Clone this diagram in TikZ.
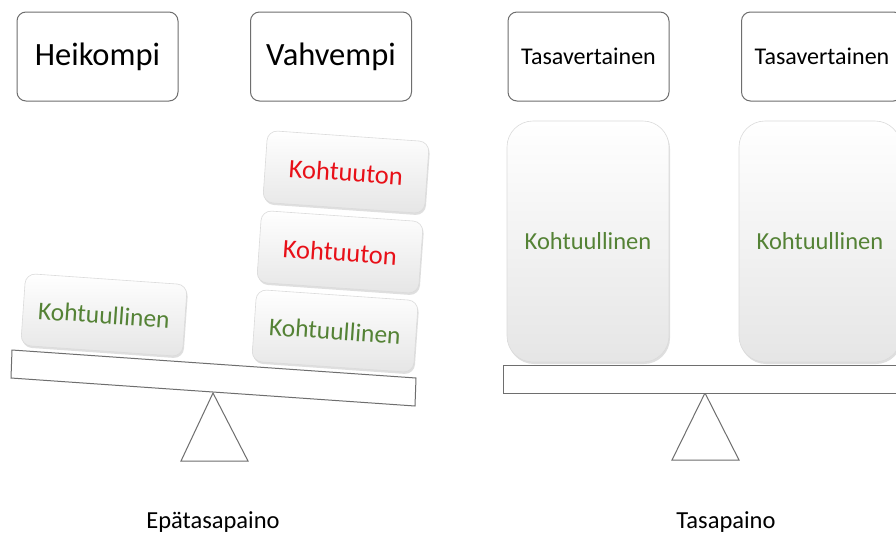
\documentclass[tikz,border=0pt]{standalone}
\usepackage{fontspec}
\setmainfont{Carlito}
\usetikzlibrary{shadows}
\definecolor{okgreen}{RGB}{84,130,53}
\definecolor{badred}{RGB}{232,16,24}
\definecolor{edgegray}{RGB}{110,110,110}
\tikzset{
  labelbox/.style={draw=edgegray, line width=1pt, rounded corners=9pt, fill=white,
    minimum width=161pt, minimum height=89pt, inner sep=0pt, text=black},
  softfill/.style={top color=white, middle color=black!2, bottom color=black!10,
    draw=black!14, line width=0.6pt,
    drop shadow={opacity=0.25, shadow xshift=1pt, shadow yshift=-2pt}},
  card/.style={softfill, rounded corners=10pt, minimum width=162pt, minimum height=72pt, inner sep=0pt},
  panel/.style={softfill, rounded corners=26pt, minimum width=162pt, minimum height=241pt, inner sep=0pt,
    text=okgreen, font=\fontsize{24.5}{28}\selectfont},
  fair/.style={card, text=okgreen, font=\fontsize{25.5}{30}\selectfont},
  unfair/.style={card, text=badred, font=\fontsize{26.5}{30}\selectfont},
  beam/.style={draw=edgegray, line width=1pt, fill=white},
  fulcrum/.style={draw=edgegray, line width=1pt, fill=white, line join=miter},
  caption/.style={font=\fontsize{24.5}{28}\selectfont, text=black}
}
\begin{document}
\begin{tikzpicture}[x=1pt, y=-1pt]
\useasboundingbox (0,0) rectangle (896,539);
\clip (0,0) rectangle (896,539);
\fill[white] (0,0) rectangle (896,539);

% top labels
\node[labelbox, font=\fontsize{32.5}{36}\selectfont] (weak) at (97.5,56.5) {Heikompi};
\node[labelbox, font=\fontsize{32.5}{36}\selectfont] (strong) at (331,56.5) {Vahvempi};
\node[labelbox, font=\fontsize{24}{28}\selectfont] (eq1) at (588.5,56.5) {Tasavertainen};
\node[labelbox, font=\fontsize{24}{28}\selectfont] (eq2) at (822,56.5) {Tasavertainen};

% left scale
\draw[fulcrum] (213,393) -- (181,461) -- (248,461) -- cycle;
\draw[beam] (12,350) -- (416,378) -- (415,406) -- (11,378) -- cycle;
\node[fair, rotate=-4] (lfair) at (104,315) {Kohtuullinen};
\node[fair, rotate=-4] (rfair) at (335,331) {Kohtuullinen};
\node[unfair, rotate=-4] (unfair1) at (340,252) {Kohtuuton};
\node[unfair, rotate=-4] (unfair2) at (346,172) {Kohtuuton};

% right scale
\draw[fulcrum] (705,393) -- (672,460) -- (739,460) -- cycle;
\draw[beam] (503,365) rectangle (910,393);
\node[panel] (p1) at (588,241.5) {Kohtuullinen};
\node[panel] (p2) at (820,241.5) {Kohtuullinen};

% captions
\node[caption] (cap1) at (213,522) {Epätasapaino};
\node[caption] (cap2) at (726,522) {Tasapaino};
\end{tikzpicture}
\end{document}
